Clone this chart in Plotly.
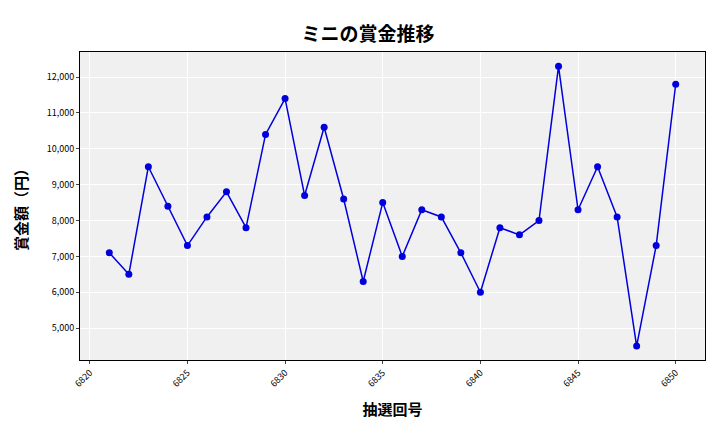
import plotly.graph_objects as go

draws = list(range(6821, 6851))
prizes = [7100, 6500, 9500, 8400, 7300, 8100, 8800, 7800, 10400, 11400,
          8700, 10600, 8600, 6300, 8500, 7000, 8300, 8100, 7100, 6000,
          7800, 7600, 8000, 12300, 8300, 9500, 8100, 4500, 7300, 11800]
xticks = [6820, 6825, 6830, 6835, 6840, 6845, 6850]
yticks = [5000, 6000, 7000, 8000, 9000, 10000, 11000, 12000]

font = "Noto Sans CJK JP"
fig = go.Figure(go.Scatter(x=draws, y=prizes, mode="lines+markers",
                           line=dict(color="#0000dd", width=1.5),
                           marker=dict(color="#0000dd", size=7)))
fig.update_layout(
    width=720, height=432, margin=dict(l=72, r=23, t=44, b=80, autoexpand=False),
    paper_bgcolor="white", plot_bgcolor="#f0f0f0",
    font=dict(family=font, color="black"),
    title=dict(text="<b>ミニの賞金推移</b>", x=0.5, xanchor="center", y=0.955,
               font=dict(size=19, family=font)),
    showlegend=False,
)
fig.update_xaxes(range=[6819.5, 6851.5], tickvals=xticks, tickangle=-45,
                 tickfont=dict(size=9), gridcolor="white", showline=True,
                 linecolor="black", ticks="outside", ticklen=3, zeroline=False,
                 automargin=False,
                 title=dict(text="<b>抽選回号</b>", font=dict(size=15)), mirror=True)
fig.update_yaxes(range=[4110, 12700], tickvals=yticks, tickformat=",",
                 tickfont=dict(size=9), gridcolor="white", showline=True,
                 linecolor="black", ticks="outside", ticklen=3, zeroline=False,
                 automargin=False,
                 title=dict(text="<b>賞金額（円）</b>", font=dict(size=15)), mirror=True)
fig.write_html("out.html")
